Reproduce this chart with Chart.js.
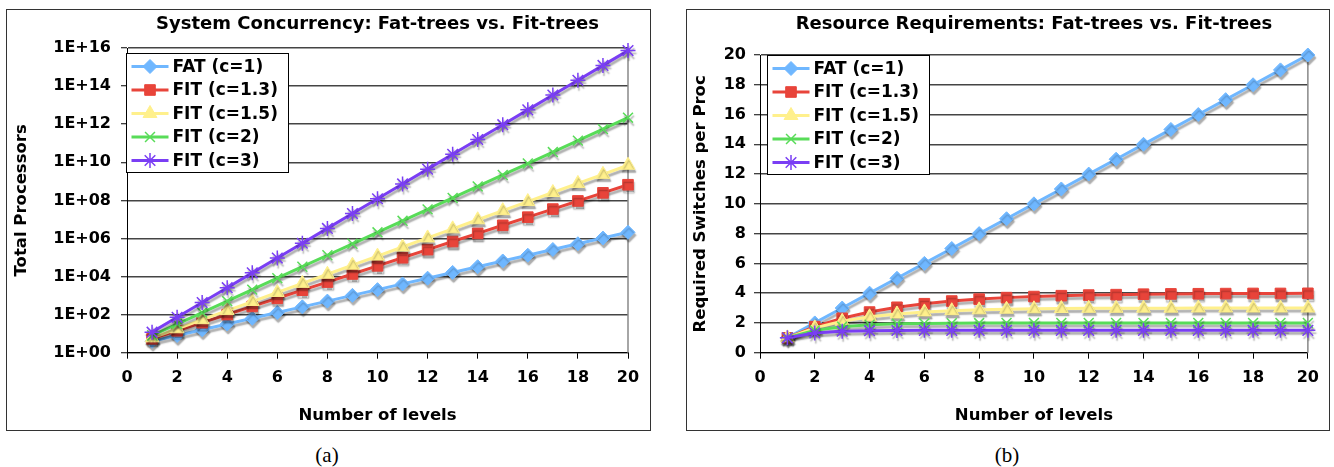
<!DOCTYPE html>
<html>
<head>
<meta charset="utf-8">
<title>Fat-trees vs. Fit-trees</title>
<script src="https://cdn.jsdelivr.net/npm/chart.js@4.4.1/dist/chart.umd.min.js"></script>
<style>
  html, body { margin: 0; padding: 0; background: #fff; }
  body { width: 1334px; height: 467px; position: relative; overflow: hidden; }
  .panel { position: absolute; top: 9px; height: 422px; box-sizing: border-box;
           border: 1px solid #333; background: #fff; }
  .panel canvas { position: absolute; left: 0; top: 0; }
  .caption { position: absolute; top: 443px; transform: translateX(-50%);
             font-family: 'Liberation Serif', 'Times New Roman', serif;
             font-size: 21px; line-height: 24px; color: #000; }
</style>
</head>
<body>
<div class="panel" style="left:6px;width:645px"><canvas id="chartA" width="643" height="420"></canvas></div>
<div class="panel" style="left:686px;width:644px"><canvas id="chartB" width="642" height="420"></canvas></div>
<div class="caption" style="left:327px">(a)</div>
<div class="caption" style="left:1007px">(b)</div>

<script>
// ---- data -------------------------------------------------------------
const levels = [1, 2, 3, 4, 5, 6, 7, 8, 9, 10, 11, 12, 13, 14, 15, 16, 17, 18, 19, 20];

const seriesLabels = ['FAT (c=1)', 'FIT (c=1.3)', 'FIT (c=1.5)', 'FIT (c=2)', 'FIT (c=3)'];

// total processors per tree depth
const fatProcs   = [4, 8, 16, 32, 64, 128, 256, 512, 1024, 2048, 4096, 8192, 16384, 32768,
                    65536, 131072, 262144, 524288, 1048576, 2097152];
const fit13Procs = [5.33, 14.2, 37.9, 101, 270, 719, 1918, 5114, 13638, 36367, 96980, 258614,
                    689637, 1.84e6, 4.90e6, 1.31e7, 3.49e7, 9.30e7, 2.48e8, 6.61e8];
const fit15Procs = [6, 18, 54, 162, 486, 1458, 4374, 13122, 39366, 118098, 354294, 1062882,
                    3188646, 9565938, 2.87e7, 8.61e7, 2.58e8, 7.75e8, 2.32e9, 6.97e9];
const fit2Procs  = [8, 32, 128, 512, 2048, 8192, 32768, 131072, 524288, 2097152, 8388608, 3.36e7,
                    1.34e8, 5.37e8, 2.15e9, 8.59e9, 3.44e10, 1.37e11, 5.50e11, 2.20e12];
const fit3Procs  = [12, 72, 432, 2592, 15552, 93312, 559872, 3.36e6, 2.02e7, 1.21e8, 7.26e8, 4.35e9,
                    2.61e10, 1.57e11, 9.40e11, 5.64e12, 3.39e13, 2.03e14, 1.22e15, 7.31e15];

// switches needed per processor
const fatSwitches   = [1, 2, 3, 4, 5, 6, 7, 8, 9, 10, 11, 12, 13, 14, 15, 16, 17, 18, 19, 20];
const fit13Switches = [1, 1.75, 2.31, 2.73, 3.05, 3.29, 3.47, 3.60, 3.70, 3.77, 3.83, 3.87, 3.90,
                       3.93, 3.95, 3.96, 3.97, 3.98, 3.98, 3.99];
const fit15Switches = [1, 1.67, 2.11, 2.41, 2.60, 2.74, 2.82, 2.88, 2.92, 2.95, 2.97, 2.98, 2.98,
                       2.99, 2.99, 3.00, 3.00, 3.00, 3.00, 3.00];
const fit2Switches  = [1, 1.5, 1.75, 1.88, 1.94, 1.97, 1.98, 1.99, 2.00, 2.00, 2.00, 2.00, 2.00,
                       2.00, 2.00, 2.00, 2.00, 2.00, 2.00, 2.00];
const fit3Switches  = [1, 1.33, 1.44, 1.48, 1.49, 1.50, 1.50, 1.50, 1.50, 1.50, 1.50, 1.50, 1.50,
                       1.50, 1.50, 1.50, 1.50, 1.50, 1.50, 1.50];

// axis ticks
const procTicks      = [1, 1e2, 1e4, 1e6, 1e8, 1e10, 1e12, 1e14, 1e16];
const procTickLabels = ['1E+00', '1E+02', '1E+04', '1E+06', '1E+08', '1E+10', '1E+12', '1E+14', '1E+16'];

// ---- look -------------------------------------------------------------
const FONT = "'DejaVu Sans', Verdana, sans-serif";
Chart.defaults.font.family = FONT;
Chart.defaults.color = '#000';

const seriesStyles = [
  { color: '#6fb7ff', pointStyle: 'rectRot',  radius: 7,   pointBorderWidth: 1 },
  { color: '#e8443a', pointStyle: 'rect',     radius: 7.5, pointBorderWidth: 1 },
  { color: '#fff08c', pointStyle: 'triangle', radius: 8,   pointBorderWidth: 1 },
  { color: '#58dc58', pointStyle: 'crossRot', radius: 7,   pointBorderWidth: 1.5 },
  { color: '#7a3ef4', pointStyle: 'star',     radius: 7.5, pointBorderWidth: 1.5 }
];

function buildDatasets(seriesValues) {
  return seriesValues.map((values, i) => {
    const st = seriesStyles[i];
    return {
      label: seriesLabels[i],
      data: levels.map((lv, k) => ({ x: lv, y: values[k] })),
      borderColor: st.color,
      backgroundColor: st.color,
      borderWidth: 3,
      pointStyle: st.pointStyle,
      pointRadius: st.radius,
      pointHoverRadius: st.radius,
      pointBackgroundColor: st.color,
      pointBorderColor: st.color,
      pointBorderWidth: st.pointBorderWidth,
      tension: 0,
      clip: false,
      order: seriesValues.length - 1 - i
    };
  });
}

// soft grey drop shadow under lines and markers
const dropShadow = {
  id: 'dropShadow',
  beforeDatasetDraw(chart) {
    const c = chart.ctx;
    c.save();
    c.shadowColor = 'rgba(0,0,0,0.32)';
    c.shadowOffsetX = 1;
    c.shadowOffsetY = 3;
    c.shadowBlur = 1.5;
  },
  afterDatasetDraw(chart) { chart.ctx.restore(); }
};

// thin grey line closing the plot area on the right
const plotFrame = {
  id: 'plotFrame',
  beforeDatasetsDraw(chart) {
    const { ctx, chartArea: a } = chart;
    ctx.save();
    ctx.strokeStyle = '#888';
    ctx.lineWidth = 1.5;
    ctx.beginPath();
    ctx.moveTo(a.right, a.top);
    ctx.lineTo(a.right, a.bottom);
    ctx.stroke();
    ctx.restore();
  }
};

// boxed legend with line + marker samples, placed inside the plot
const boxLegend = {
  id: 'boxLegend',
  afterDatasetsDraw(chart, args, o) {
    const { ctx, chartArea } = chart;
    const x = Math.round(chartArea.left + o.dx) + 0.5;
    const y = Math.round(chartArea.top + o.dy) + 0.5;
    ctx.save();
    ctx.fillStyle = '#fff';
    ctx.fillRect(x, y, o.width, o.height);
    ctx.strokeStyle = '#000';
    ctx.lineWidth = 1;
    ctx.strokeRect(x, y, o.width, o.height);
    chart.data.datasets.forEach((ds, i) => {
      const cy = y + o.firstRow + i * o.rowStep;
      ctx.strokeStyle = ds.borderColor;
      ctx.lineWidth = ds.borderWidth;
      ctx.beginPath();
      ctx.moveTo(x + o.lineStart, cy);
      ctx.lineTo(x + o.lineEnd, cy);
      ctx.stroke();
      ctx.fillStyle = ds.pointBackgroundColor;
      ctx.strokeStyle = ds.pointBorderColor;
      ctx.lineWidth = ds.pointBorderWidth;
      Chart.helpers.drawPoint(ctx, {
        pointStyle: ds.pointStyle, radius: ds.pointRadius, rotation: 0,
        borderWidth: ds.pointBorderWidth
      }, x + (o.lineStart + o.lineEnd) / 2, cy);
      ctx.fillStyle = '#000';
      ctx.font = 'bold 17px ' + FONT;
      ctx.textAlign = 'left';
      ctx.textBaseline = 'middle';
      ctx.fillText(ds.label, x + o.textX, cy + 1);
    });
    ctx.restore();
  }
};

const tickFont  = { size: 16, weight: 'bold' };
const titleFont = { size: 16.5, weight: 'bold' };

function xAxis() {
  return {
    type: 'linear', min: 0, max: 20,
    ticks: { stepSize: 2, font: tickFont, color: '#000', padding: 10, maxRotation: 0, autoSkip: false },
    grid: { drawOnChartArea: false, drawTicks: true, tickLength: 6, tickColor: '#000', tickWidth: 1 },
    border: { color: '#000', width: 1 },
    title: { display: true, text: 'Number of levels', font: titleFont, color: '#000',
             padding: { top: 0, bottom: 4 } },
    afterFit(s) { s.height = 77.3; }
  };
}

function commonOptions(title, titleGap, rightPad, yScale, legendPos) {
  return {
    responsive: false,
    animation: false,
    devicePixelRatio: 1,
    events: [],
    layout: { padding: { left: 0, right: rightPad, top: 0, bottom: 0 } },
    plugins: {
      legend: { display: false },
      tooltip: { enabled: false },
      title: {
        display: true, text: title, fullSize: false, color: '#000',
        font: { size: 18, weight: 'bold' },
        padding: { top: 4, bottom: titleGap }
      },
      boxLegend: Object.assign({
        width: 162, height: 119, firstRow: 13, rowStep: 23.5,
        lineStart: 5, lineEnd: 42, textX: 46
      }, legendPos)
    },
    scales: { x: xAxis(), y: yScale }
  };
}

// (a) total processors, log scale
new Chart(document.getElementById('chartA'), {
  type: 'line',
  data: { datasets: buildDatasets([fatProcs, fit13Procs, fit15Procs, fit2Procs, fit3Procs]) },
  options: commonOptions('System Concurrency: Fat-trees vs. Fit-trees', 12.4, 22, {
    type: 'logarithmic', min: 1, max: 1e16,
    afterBuildTicks(s) { s.ticks = procTicks.map(v => ({ value: v })); },
    ticks: { callback: (v, i) => procTickLabels[i], font: tickFont, color: '#000', padding: 10, autoSkip: false },
    grid: { color: '#444', lineWidth: 1.5, tickLength: 6, tickColor: '#000', tickWidth: 1 },
    border: { color: '#000', width: 1 },
    title: { display: true, text: 'Total Processors', font: titleFont, color: '#000',
             padding: { top: 5, bottom: 0 } },
    afterFit(s) { s.width = 120; }
  }, { dx: -1, dy: 5 }),
  plugins: [plotFrame, dropShadow, boxLegend]
});

// (b) switches per processor, linear scale
new Chart(document.getElementById('chartB'), {
  type: 'line',
  data: { datasets: buildDatasets([fatSwitches, fit13Switches, fit15Switches, fit2Switches, fit3Switches]) },
  options: commonOptions('Resource Requirements: Fat-trees vs. Fit-trees', 19.4, 18, {
    type: 'linear', min: 0, max: 20,
    ticks: { stepSize: 2, font: tickFont, color: '#000', padding: 8, autoSkip: false },
    grid: { color: '#444', lineWidth: 1.5, tickLength: 6, tickColor: '#000', tickWidth: 1 },
    border: { color: '#000', width: 1 },
    title: { display: true, text: 'Required Switches per Proc', font: titleFont, color: '#000',
             padding: { top: 4, bottom: 0 } },
    afterFit(s) { s.width = 73; }
  }, { dx: 7, dy: 0 }),
  plugins: [plotFrame, dropShadow, boxLegend]
});
</script>
</body>
</html>
